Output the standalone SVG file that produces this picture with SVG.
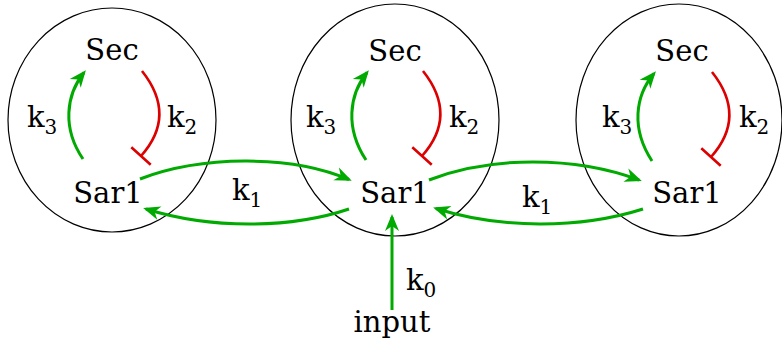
<svg xmlns="http://www.w3.org/2000/svg" width="782" height="347" viewBox="0 0 782 347">
<style>
.cell{fill:none;stroke:#000;stroke-width:1.2}
.t{font-family:"DejaVu Serif","Liberation Serif",serif;font-size:29px;fill:#000}
.lb{font-family:"DejaVu Serif","Liberation Serif",serif;font-size:29px;fill:#000}
.sub{font-size:20px}
.act{fill:none;stroke:#00aa00;stroke-width:3;marker-end:url(#ah)}
.inh{fill:none;stroke:#dd0000;stroke-width:2.6}
</style>
<defs>
<marker id="ah" markerUnits="userSpaceOnUse" markerWidth="24" markerHeight="24" refX="0" refY="0" orient="auto" overflow="visible">
<path d="M3,0 L-14,-7 L-9,0 L-14,7 Z" fill="#00aa00"/>
</marker>
</defs>
<g id="cell1"><ellipse class="cell" cx="112" cy="120" rx="104" ry="112"/></g>
<g id="cell2"><ellipse class="cell" cx="395" cy="120" rx="104" ry="116"/></g>
<g id="cell3"><ellipse class="cell" cx="679" cy="120" rx="103" ry="116"/></g>
<g id="sec1"><text class="t" x="112" y="60" text-anchor="middle">Sec</text></g>
<g id="sar1a"><text class="t" x="108" y="203" text-anchor="middle">Sar1</text></g>
<g id="sec2"><text class="t" x="395" y="61" text-anchor="middle">Sec</text></g>
<g id="sar1b"><text class="t" x="395" y="203" text-anchor="middle">Sar1</text></g>
<g id="sec3"><text class="t" x="682" y="61" text-anchor="middle">Sec</text></g>
<g id="sar1c"><text class="t" x="687" y="203" text-anchor="middle">Sar1</text></g>
<g id="input"><text class="t" x="392" y="332" text-anchor="middle">input</text></g>
<g id="connectors">
<path class="act" d="M83 159 C62 128 66 95 84 72.5"/>
<path class="act" d="M366 160 C345 128 349 95 367 72.5"/>
<path class="act" d="M652 161 C631 129 635 96 654 73.5"/>
<path class="inh" d="M142 71 C165 100 166 128 141 156 M131.3 147.3 L150.7 164.7"/>
<path class="inh" d="M423 71 C446 100 447 128 422 156 M412.3 147.3 L431.7 164.7"/>
<path class="inh" d="M712 72 C735 101 736 129 711 157 M701.3 148.3 L720.7 165.7"/>
<path class="act" d="M140 179 C200 156 290 154 349 179.5"/>
<path class="act" d="M349 209 C290 229 210 229 146 209"/>
<path class="act" d="M429 180 C490 156 575 156 639 180"/>
<path class="act" d="M643 209 C580 229 500 229 436 208.5"/>
<path class="act" d="M392 310 L392 217"/>
</g>
<g id="labels">
<text class="lb" x="27" y="127">k<tspan class="sub" dy="7">3</tspan></text>
<text class="lb" x="167" y="127">k<tspan class="sub" dy="7">2</tspan></text>
<text class="lb" x="306" y="127">k<tspan class="sub" dy="7">3</tspan></text>
<text class="lb" x="449" y="127">k<tspan class="sub" dy="7">2</tspan></text>
<text class="lb" x="602" y="127">k<tspan class="sub" dy="7">3</tspan></text>
<text class="lb" x="739" y="127">k<tspan class="sub" dy="7">2</tspan></text>
<text class="lb" x="232" y="200">k<tspan class="sub" dy="7">1</tspan></text>
<text class="lb" x="522" y="207">k<tspan class="sub" dy="7">1</tspan></text>
<text class="lb" x="406" y="290">k<tspan class="sub" dy="7">0</tspan></text>
</g>
</svg>
